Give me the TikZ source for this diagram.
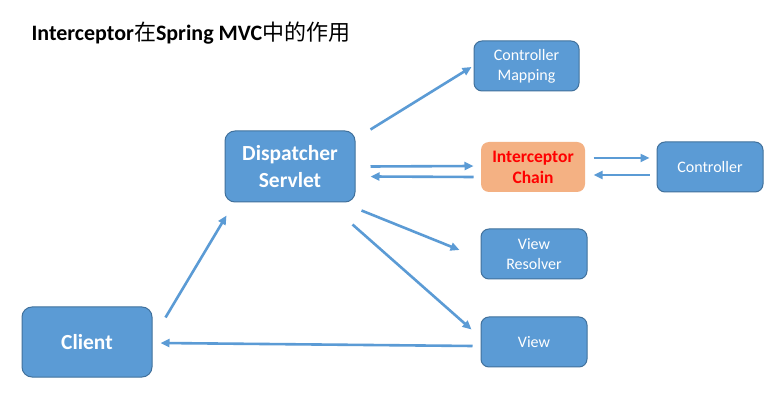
\documentclass[tikz,border=0pt]{standalone}
\usepackage{fontspec}
\setmainfont{Carlito}
\newfontfamily\cjk{Noto Sans CJK SC}
\usetikzlibrary{arrows.meta,calc}
\definecolor{boxblue}{HTML}{5B9BD5}
\definecolor{boxedge}{HTML}{41719C}
\definecolor{boxorange}{HTML}{F4B183}
\begin{document}
\begin{tikzpicture}[x=1pt,y=-1pt,
  box/.style={draw=boxedge,line width=1pt,fill=boxblue,rounded corners=8pt,text=white,align=center,inner sep=0pt,font=\fontsize{16}{20}\selectfont},
  bigbox/.style={box,font=\fontsize{21.5}{27}\selectfont\bfseries,rounded corners=10pt},
  orangebox/.style={box,draw=none,fill=boxorange,text=red,font=\fontsize{17.5}{21}\selectfont\bfseries},
  arr/.style={draw=boxblue,line width=2.6pt,-{Triangle[length=9pt,width=8pt]}}]
\useasboundingbox (0,0) rectangle (782,403);
\fill[white] (0,0) rectangle (782,403);
\node[anchor=west,font=\fontsize{22}{26}\selectfont] (title) at (28,33) {\textbf{Interceptor}{\cjk 在}\textbf{Spring MVC}{\cjk 中的作用}};
\node[box,minimum width=105pt,minimum height=50pt] (cm) at (526.5,66) {Controller\\Mapping};
\node[bigbox,minimum width=130pt,minimum height=71pt] (ds) at (290,166.5) {Dispatcher\\Servlet};
\node[orangebox,minimum width=104pt,minimum height=50pt] (ic) at (533,167) {Interceptor\\Chain};
\node[box,minimum width=106pt,minimum height=50pt] (ctrl) at (710,167) {Controller};
\node[box,minimum width=106pt,minimum height=50pt] (vr) at (534,254) {View\\Resolver};
\node[box,minimum width=106pt,minimum height=50pt] (view) at (534,342) {View};
\node[bigbox,minimum width=130pt,minimum height=70pt] (client) at (87,342) {Client};
\draw[arr] ($(ds.north east)+(15,-1)$) -- ($(cm.west)+(-2,1)$);
\draw[arr] ($(ds.east)+(15,0)$) -- ($(ic.west)+(-7,-1)$);
\draw[arr] ($(ic.west)+(-7,10)$) -- ($(ds.east)+(15,10)$);
\draw[arr] ($(ic.east)+(8,-9)$) -- ($(ctrl.west)+(-7,-9)$);
\draw[arr] ($(ctrl.west)+(-7,8)$) -- ($(ic.east)+(8,8)$);
\draw[arr] ($(ds.south east)+(6,8)$) -- ($(vr.west)+(-21,-4)$);
\draw[arr] ($(ds.south east)+(-3,22)$) -- ($(view.north west)+(-9,13)$);
\draw[arr] ($(client.north east)+(13,11)$) -- ($(ds.south west)+(2,13)$);
\draw[arr] ($(view.west)+(-8,4)$) -- ($(client.east)+(8,1)$);
\end{tikzpicture}
\end{document}
